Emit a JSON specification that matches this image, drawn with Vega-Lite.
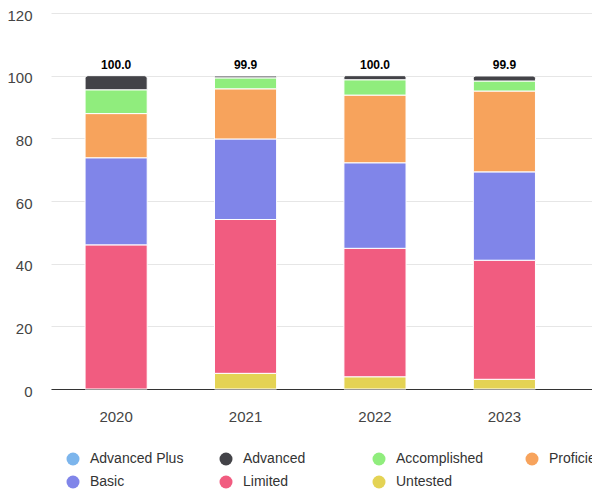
{
  "$schema": "https://vega.github.io/schema/vega-lite/v6.json",
  "autosize": "none",
  "width": 541,
  "height": 376,
  "padding": {"left": 51, "top": 13, "right": 0, "bottom": 108},
  "background": "white",
  "config": {"view": {"stroke": null}, "font": "Liberation Sans"},
  "data": {"values": [
    {"year": "2020", "level": 1, "category": "Limited", "value": 46.0},
    {"year": "2020", "level": 2, "category": "Basic", "value": 27.8},
    {"year": "2020", "level": 3, "category": "Proficient", "value": 14.1},
    {"year": "2020", "level": 4, "category": "Accomplished", "value": 7.6},
    {"year": "2020", "level": 5, "category": "Advanced", "value": 4.5},
    {"year": "2021", "level": 0, "category": "Untested", "value": 5.0},
    {"year": "2021", "level": 1, "category": "Limited", "value": 49.1},
    {"year": "2021", "level": 2, "category": "Basic", "value": 25.7},
    {"year": "2021", "level": 3, "category": "Proficient", "value": 16.0},
    {"year": "2021", "level": 4, "category": "Accomplished", "value": 3.5},
    {"year": "2021", "level": 5, "category": "Advanced", "value": 0.6},
    {"year": "2022", "level": 0, "category": "Untested", "value": 3.9},
    {"year": "2022", "level": 1, "category": "Limited", "value": 41.0},
    {"year": "2022", "level": 2, "category": "Basic", "value": 27.3},
    {"year": "2022", "level": 3, "category": "Proficient", "value": 21.6},
    {"year": "2022", "level": 4, "category": "Accomplished", "value": 4.9},
    {"year": "2022", "level": 5, "category": "Advanced", "value": 1.3},
    {"year": "2023", "level": 0, "category": "Untested", "value": 3.1},
    {"year": "2023", "level": 1, "category": "Limited", "value": 38.0},
    {"year": "2023", "level": 2, "category": "Basic", "value": 28.2},
    {"year": "2023", "level": 3, "category": "Proficient", "value": 25.8},
    {"year": "2023", "level": 4, "category": "Accomplished", "value": 3.2},
    {"year": "2023", "level": 5, "category": "Advanced", "value": 1.6}
  ]},
  "encoding": {
    "x": {
      "field": "year", "type": "nominal", "title": null,
      "scale": {"paddingInner": 0.52, "paddingOuter": 0.35, "align": 0.376},
      "axis": {"labelAngle": 0, "ticks": false, "labelPadding": 20, "domainColor": "#333333", "labelFontSize": 15, "labelColor": "#444444", "labelFont": "Liberation Sans", "grid": false}
    }
  },
  "layer": [
    {
      "transform": [
        {"stack": "value", "groupby": ["year"], "sort": [{"field": "level", "order": "ascending"}], "as": ["v0", "v1"]},
        {"filter": "datum.category !== 'Advanced'"}
      ],
      "mark": {"type": "bar", "stroke": "white", "strokeWidth": 1},
      "encoding": {
        "y": {"field": "v1", "type": "quantitative", "title": null,
          "scale": {"domain": [0, 120], "nice": false},
          "axis": {"values": [0, 20, 40, 60, 80, 100, 120], "domain": false, "ticks": false, "labelPadding": 19, "labelOffset": 2, "gridColor": "#e6e6e6", "labelFontSize": 15, "labelColor": "#444444", "labelFont": "Liberation Sans"}},
        "y2": {"field": "v0"},
        "color": {
          "field": "category", "type": "nominal", "title": null,
          "scale": {
            "domain": ["Advanced Plus", "Advanced", "Accomplished", "Proficient", "Basic", "Limited", "Untested"],
            "range": ["#7cb5ec", "#434348", "#90ed7d", "#f7a35c", "#8085e9", "#f15c80", "#e4d354"]
          },
          "legend": {
            "orient": "none", "legendX": 15, "legendY": 439, "direction": "horizontal",
            "columns": 4, "gridAlign": "all", "columnPadding": 35, "rowPadding": 9,
            "symbolType": "circle", "symbolSize": 169, "symbolStrokeWidth": 0,
            "labelFontSize": 14, "labelColor": "#333333", "labelFont": "Liberation Sans", "labelOffset": 10, "padding": 0, "labelLimit": 200
          }
        }
      }
    },
    {
      "transform": [
        {"stack": "value", "groupby": ["year"], "sort": [{"field": "level", "order": "ascending"}], "as": ["v0", "v1"]},
        {"filter": "datum.category === 'Advanced'"}
      ],
      "mark": {"type": "bar", "stroke": "white", "strokeWidth": 1, "cornerRadiusTopLeft": 3, "cornerRadiusTopRight": 3},
      "encoding": {
        "y": {"field": "v1", "type": "quantitative"},
        "y2": {"field": "v0"},
        "color": {"field": "category", "type": "nominal"}
      }
    },
    {
      "transform": [
        {"aggregate": [{"op": "sum", "field": "value", "as": "total"}], "groupby": ["year"]}
      ],
      "mark": {"type": "text", "baseline": "alphabetic", "dy": -7, "fontWeight": "bold", "fontSize": 12, "color": "#000000", "font": "Liberation Sans"},
      "encoding": {
        "y": {"field": "total", "type": "quantitative"},
        "text": {"field": "total", "type": "quantitative", "format": ".1f"}
      }
    }
  ]
}
